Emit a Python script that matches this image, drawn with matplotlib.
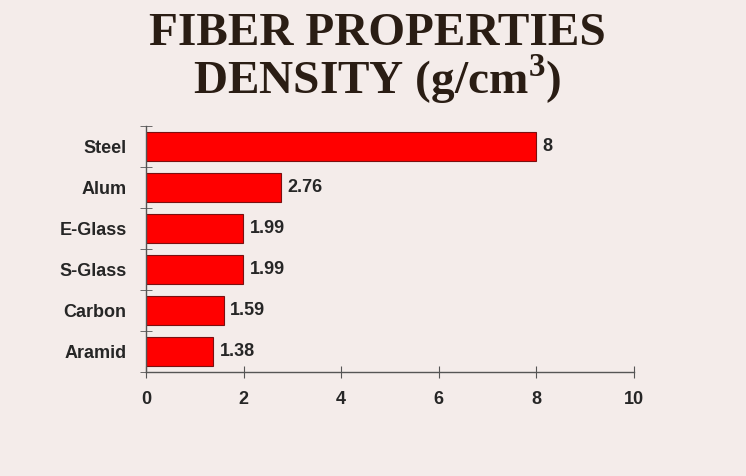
import numpy as np
import matplotlib.pyplot as plt

plt.rcParams['mathtext.fontset'] = 'custom'
plt.rcParams['mathtext.rm'] = 'Liberation Serif'
plt.rcParams['mathtext.bf'] = 'Liberation Serif:bold'

materials = ["Steel", "Alum", "E-Glass", "S-Glass", "Carbon", "Aramid"]
density = [8, 2.76, 1.99, 1.99, 1.59, 1.38]
value_labels = ["8", "2.76", "1.99", "1.99", "1.59", "1.38"]
x_ticks = [0, 2, 4, 6, 8, 10]

bg = "#f4ecea"
txt = "#262626"
fig = plt.figure(figsize=(7.46, 4.76), dpi=100, facecolor=bg)
ax = fig.add_axes([0.1957, 0.2185, 0.6542, 0.5168], facecolor=bg)

y = np.arange(len(materials))
ax.barh(y, density, height=0.72, color="#ff0000", edgecolor="#7a1010", linewidth=0.8)
for yi, v, lab in zip(y, density, value_labels):
    ax.text(v + 0.13, yi, lab, va="center", ha="left", fontsize=13,
            fontweight="bold", family="Liberation Sans", color=txt)

ax.set_ylim(len(materials) - 0.5, -0.5)
ax.set_xlim(0, 10)
ax.set_yticks(y)
ax.set_yticklabels(materials, fontsize=13, fontweight="bold", family="Liberation Sans")
ax.set_yticks(np.arange(-0.5, len(materials), 1.0), minor=True)
ax.tick_params(axis="y", which="major", length=0, pad=14, colors=txt)
ax.tick_params(axis="y", which="minor", length=8, direction="inout", color="#555555")
ax.set_xticks(x_ticks)
ax.set_xticklabels([str(t) for t in x_ticks], fontsize=13, fontweight="bold",
                   family="Liberation Sans")
ax.tick_params(axis="x", length=8, direction="inout", pad=10, color="#555555",
               labelcolor=txt)

for s in ["top", "right"]:
    ax.spines[s].set_visible(False)
for s in ["left", "bottom"]:
    ax.spines[s].set_color("#555555")
    ax.spines[s].set_linewidth(1.0)

fig.text(0.506, 1 - 45 / 476, "FIBER PROPERTIES", ha="center", va="baseline",
         fontsize=34, fontweight="bold", family="Liberation Serif", color="#2a1d14")
fig.text(0.506, 1 - 94 / 476, "DENSITY (g/cm$^{\\mathbf{3}}$)", ha="center", va="baseline",
         fontsize=34, fontweight="bold", family="Liberation Serif", color="#2a1d14")

fig.savefig("out.png", dpi=100, facecolor=bg)
